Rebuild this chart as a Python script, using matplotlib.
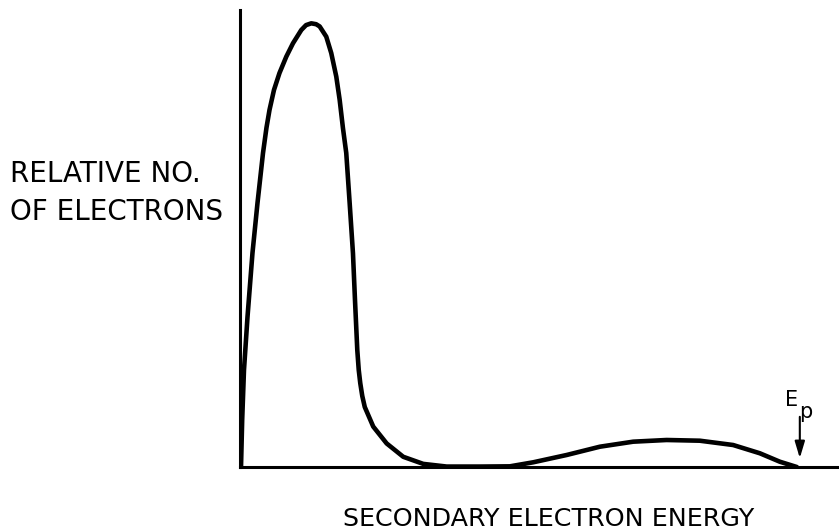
import matplotlib
matplotlib.use('Agg')
from matplotlib import pyplot as plt

# secondary electron energy distribution (Ep = 100)
energy = [0.18, 0.39, 0.71, 1.34, 2.23, 3.13, 4.11, 4.73, 5.27, 6.07, 7.05, 8.27,
          9.46, 10.95, 11.8, 12.73, 13.6, 14.23, 15.41, 16.30, 17.20, 17.80,
          18.39, 18.98, 19.59, 20.18, 20.54, 20.95, 21.21, 21.48, 21.84, 22.29,
          23.80, 26.20, 29.16, 32.73, 36.91, 42.86, 48.21, 52.38, 58.34, 64.29,
          70.23, 76.20, 82.14, 88.09, 92.86, 96.43, 99.46]
rel_no = [0.0, 10.6, 21.8, 33.8, 48.2, 59.5, 70.7, 76.4, 80.4, 84.9, 88.7, 92.4,
          95.4, 98.4, 99.5, 99.9, 99.7, 99.2, 96.9, 93.2, 87.9, 82.7,
          76.3, 70.7, 59.4, 48.1, 37.6, 26.35, 21.85, 18.9, 16.0, 13.5,
          9.1, 5.3, 2.3, 0.7, 0.1, 0.1, 0.15, 1.06, 2.70, 4.57,
          5.70, 6.08, 5.92, 4.95, 3.09, 1.19, 0.0]
e_primary = 100.0

W, H = 839, 531
fig = plt.figure(figsize=(W / 100, H / 100), dpi=100)
ax = fig.add_axes([240 / W, (H - 467) / H, 599 / W, 457 / H])

ax.plot(energy, rel_no, color='black', lw=3.3, solid_joinstyle='round',
        solid_capstyle='round')
ax.set_xlim(0, 107)
ax.set_ylim(0, 102.9)

for s in ['top', 'right']:
    ax.spines[s].set_visible(False)
for s in ['left', 'bottom']:
    ax.spines[s].set_linewidth(2.2)
ax.set_xticks([])
ax.set_yticks([])

ax.annotate('', xy=(e_primary, 2.0), xytext=(e_primary, 11.3),
            arrowprops=dict(arrowstyle='-|>,head_length=1.0,head_width=0.3',
                            color='black', lw=1.5, shrinkA=0, shrinkB=0))
ax.text(e_primary - 1.4, 13.8, 'E', fontsize=15, ha='center', va='baseline')
ax.text(e_primary + 1.0, 11.0, 'p', fontsize=15, ha='center', va='baseline')

fig.text(10 / W, 1 - 182 / H, 'RELATIVE NO.', fontsize=20, ha='left', va='baseline')
fig.text(10 / W, 1 - 220 / H, 'OF ELECTRONS', fontsize=20, ha='left', va='baseline')
fig.text(549 / W, 1 - 526 / H, 'SECONDARY ELECTRON ENERGY', fontsize=18.3,
         ha='center', va='baseline')

fig.savefig('out.png', dpi=100)
